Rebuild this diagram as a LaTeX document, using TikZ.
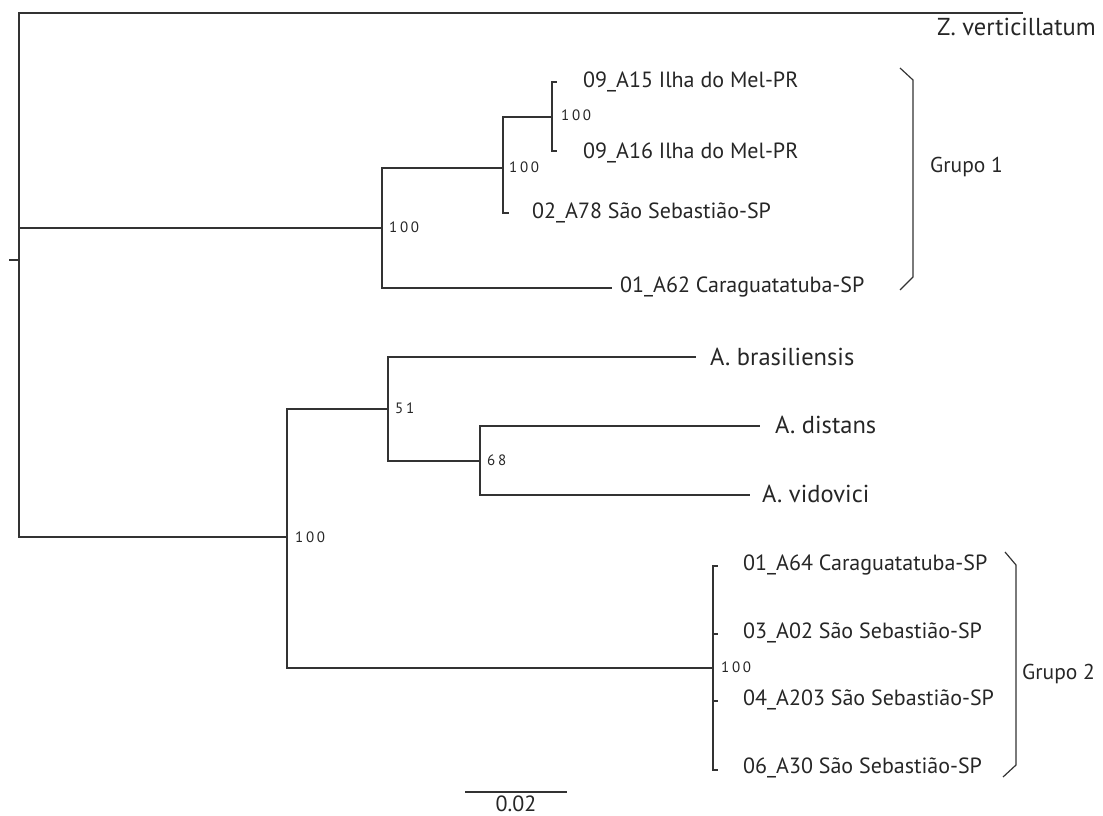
\documentclass[tikz,border=0pt]{standalone}
\usepackage{fontspec}
\setmainfont{PT Sans}
\begin{document}
\begin{tikzpicture}[x=1pt,y=-1pt,
  br/.style={line width=1.3pt,draw=black!80},
  leaf/.style={anchor=west,inner sep=0pt,font=\fontsize{22}{22}\selectfont,text=black!85},
  sp/.style={anchor=west,inner sep=0pt,font=\fontsize{24.5}{24}\selectfont,text=black!85},
  boot/.style={anchor=west,inner sep=0pt,font=\fontsize{15}{15}\selectfont\addfontfeature{LetterSpace=18},text=black!85},
  grp/.style={anchor=west,inner sep=0pt,font=\fontsize{21.5}{22}\selectfont,text=black!85}]
\useasboundingbox (0,0) rectangle (1103,816);
% coordinates
\coordinate (stub) at (9,260);
\coordinate (root) at (19,260);
\coordinate (zvtip) at (1023,13);
\coordinate (g1) at (382,228);
\coordinate (g1a) at (503,168);
\coordinate (g1b) at (552,117);
\coordinate (t1) at (557,82);
\coordinate (t2) at (557,151);
\coordinate (t3) at (509,213);
\coordinate (t4) at (612,288);
\coordinate (c2) at (287,537);
\coordinate (c2a) at (388,409);
\coordinate (bra) at (696,357);
\coordinate (c2b) at (480,461);
\coordinate (dis) at (760,426);
\coordinate (vid) at (750,495);
\coordinate (g2) at (713,668);
\coordinate (u1) at (718,566);
\coordinate (u2) at (718,634);
\coordinate (u3) at (718,701);
\coordinate (u4) at (718,770);
% branches
\draw[br] (stub) -- (root);
\draw[br] (root) |- (zvtip);
\draw[br] (root) |- (g1);
\draw[br] (root) |- (c2);
\draw[br] (g1) |- (g1a);
\draw[br] (g1) |- (t4);
\draw[br] (g1a) |- (g1b);
\draw[br] (g1a) |- (t3);
\draw[br] (g1b) |- (t1);
\draw[br] (g1b) |- (t2);
\draw[br] (c2) |- (c2a);
\draw[br] (c2) |- (g2);
\draw[br] (c2a) |- (bra);
\draw[br] (c2a) |- (c2b);
\draw[br] (c2b) |- (dis);
\draw[br] (c2b) |- (vid);
\draw[br] (g2) |- (u1);
\draw[br] (g2) |- (u2);
\draw[br] (g2) |- (u3);
\draw[br] (g2) |- (u4);
% leaf labels
\node[sp] (lzv) at (937,27) {Z. verticillatum};
\node[leaf] (l1) at (583,82) {09\_A15 Ilha do Mel-PR};
\node[leaf] (l2) at (583,153) {09\_A16 Ilha do Mel-PR};
\node[leaf] (l3) at (532,213) {02\_A78 São Sebastião-SP};
\node[leaf] (l4) at (620,287) {01\_A62 Caraguatatuba-SP};
\node[sp] (lbra) at (710,357) {A. brasiliensis};
\node[sp] (ldis) at (775,425) {A. distans};
\node[sp] (lvid) at (762,494) {A. vidovici};
\node[leaf] (m1) at (743,565) {01\_A64 Caraguatatuba-SP};
\node[leaf] (m2) at (743,633) {03\_A02 São Sebastião-SP};
\node[leaf] (m3) at (743,700) {04\_A203 São Sebastião-SP};
\node[leaf] (m4) at (743,768) {06\_A30 São Sebastião-SP};
% bootstrap
\node[boot] (b1) at (389,227) {100};
\node[boot] (b2) at (509,167) {100};
\node[boot] (b3) at (561,115) {100};
\node[boot] (b4) at (295,537) {100};
\node[boot] (b5) at (395,408) {51};
\node[boot] (b6) at (487,460) {68};
\node[boot] (b7) at (721,667) {100};
% brackets
\draw[br,line width=1.2pt] (900,68) -- (913,80) -- (913,277) -- (900,290);
\node[grp] (gr1) at (930,167) {Grupo 1};
\draw[br,line width=1.2pt] (1005,552) -- (1016,565) -- (1016,765) -- (1003,777);
\node[grp] (gr2) at (1022,674) {Grupo 2};
% scale bar
\coordinate (sa) at (465,792);
\coordinate (sb) at (567,792);
\draw[br] (sa) -- (sb);
\node[leaf,anchor=base] (sl) at (516,811) {0.02};
\end{tikzpicture}
\end{document}
